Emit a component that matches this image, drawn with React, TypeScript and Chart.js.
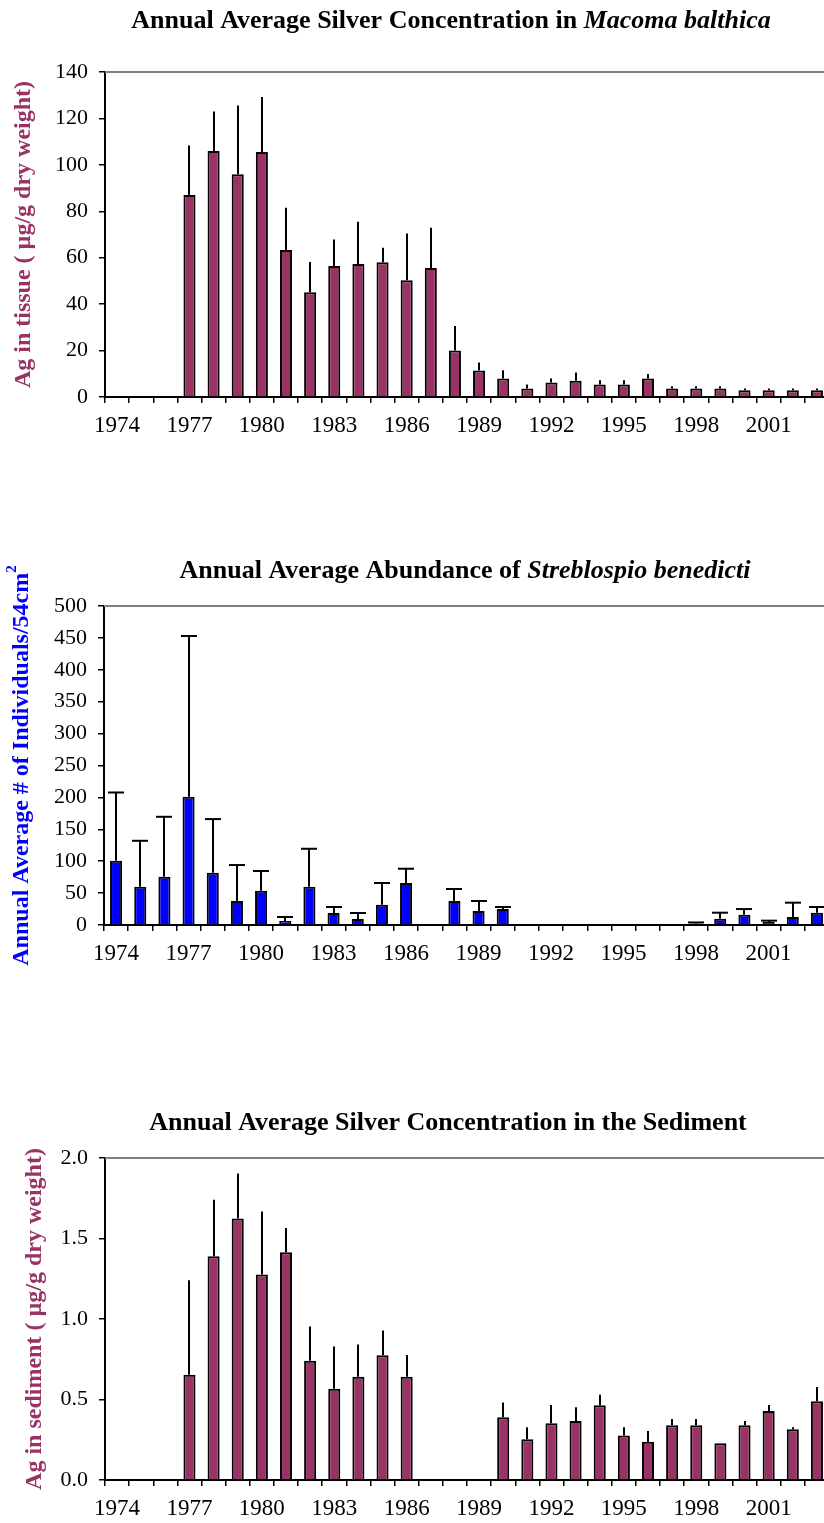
import React, { useEffect, useRef } from "react";
import { Chart, registerables } from "chart.js";

Chart.register(...registerables);

const FONT = "'Liberation Serif', 'Times New Roman', Times, serif";
const MAROON = "#993366";
const BLUE = "#0000FF";

// ---------- data ----------
const years = [
  1974, 1975, 1976, 1977, 1978, 1979, 1980, 1981, 1982, 1983,
  1984, 1985, 1986, 1987, 1988, 1989, 1990, 1991, 1992, 1993,
  1994, 1995, 1996, 1997, 1998, 1999, 2000, 2001, 2002, 2003,
];
const tickYears = [1974, 1977, 1980, 1983, 1986, 1989, 1992, 1995, 1998, 2001];

// Ag in Macoma balthica tissue (µg/g dry weight)
const tissueMean = [
  null, null, null, 87, 106, 96, 105.5, 63.3, 45.1, 56.4,
  57.3, 58, 50.3, 55.6, 20, 11.4, 8, 3.7, 6.3, 7,
  5.4, 5.4, 8, 3.7, 3.7, 3.7, 2.9, 2.9, 2.9, 2.9,
];
const tissueErr = [
  null, null, null, 21.3, 17, 29.6, 23.7, 18.2, 13.1, 11.4,
  18.2, 6.3, 20.1, 17.3, 10.6, 3.5, 3.5, 1.7, 1.7, 3.6,
  1.8, 1.8, 1.9, 0.9, 0.9, 0.9, 0.8, 0.8, 0.8, 0.8,
];

// Streblospio benedicti abundance (individuals / 54 cm²)
const abundMean = [
  100.7, 60, 75.6, 201, 82, 37.6, 53.8, 6.3, 60, 18.8,
  9.4, 31.8, 65.8, null, 37.8, 21.9, 25, null, null, null,
  null, null, null, null, 2.5, 9.9, 16.2, 4.7, 12.5, 19.3,
];
const abundErr = [
  107, 72, 94, 252, 84, 56.4, 30.8, 6.2, 59.5, 9.4,
  9.4, 34, 22.4, null, 18.6, 15.7, 3.2, null, null, null,
  null, null, null, null, 1.5, 9.4, 8.8, 2.1, 22.5, 8.9,
];

// Ag in sediment (µg/g dry weight)
const sedMean = [
  null, null, null, 0.653, 1.389, 1.625, 1.277, 1.414, 0.74, 0.566,
  0.641, 0.775, 0.641, null, null, null, 0.39, 0.253, 0.353, 0.367,
  0.464, 0.276, 0.238, 0.34, 0.34, 0.228, 0.34, 0.429, 0.315, 0.489,
];
const sedErr = [
  null, null, null, 0.587, 0.352, 0.278, 0.39, 0.151, 0.213, 0.263,
  0.2, 0.154, 0.136, null, null, null, 0.091, 0.075, 0.113, 0.085,
  0.065, 0.052, 0.067, 0.039, 0.039, 0, 0.027, 0.037, 0.013, 0.089,
];

type Part = { text: string; italic?: boolean; sup?: boolean };

const title1: Part[] = [
  { text: "Annual Average Silver Concentration in " },
  { text: "Macoma balthica", italic: true },
];
const title2: Part[] = [
  { text: "Annual Average Abundance of " },
  { text: "Streblospio benedicti", italic: true },
];
const title3: Part[] = [{ text: "Annual Average Silver Concentration in the Sediment" }];

const yTitle1: Part[] = [{ text: "Ag in tissue ( µg/g dry weight)" }];
const yTitle2: Part[] = [
  { text: "Annual Average # of Individuals/54cm" },
  { text: "2", sup: true },
];
const yTitle3: Part[] = [{ text: "Ag in sediment ( µg/g dry weight)" }];

// ---------- helpers ----------
function drawParts(
  ctx: CanvasRenderingContext2D,
  parts: Part[],
  size: number,
  cx: number,
  cy: number,
  color: string
) {
  const fontFor = (p: Part) =>
    `${p.italic ? "italic " : ""}bold ${p.sup ? Math.round(size * 0.62) : size}px ${FONT}`;
  let total = 0;
  const widths = parts.map((p) => {
    ctx.font = fontFor(p);
    const w = ctx.measureText(p.text).width;
    total += w;
    return w;
  });
  let x = cx - total / 2;
  ctx.textBaseline = "middle";
  ctx.textAlign = "left";
  ctx.fillStyle = color;
  parts.forEach((p, i) => {
    ctx.font = fontFor(p);
    ctx.fillText(p.text, x, cy + (p.sup ? -size * 0.4 : 0));
    x += widths[i];
  });
}

type Props = {
  top: number;
  height: number;
  padTop: number;
  means: (number | null)[];
  errs: (number | null)[];
  cap: number;
  color: string;
  yMax: number;
  yStep: number;
  decimals: number;
  title: Part[];
  titleX: number;
  titleY: number;
  axisTitle: Part[];
  axisTitleX: number;
  axisColor: string;
  yAxisWidth: number;
};

const CANVAS_W = 840;
const PLOT_RIGHT = 829;
const X_AXIS_H = 60;

function BarChart(p: Props) {
  const ref = useRef<HTMLCanvasElement | null>(null);

  useEffect(() => {
    if (!ref.current) return;

    const decorPlugin = {
      id: "decor",
      beforeDatasetsDraw(chart: any) {
        const { ctx, chartArea } = chart;
        ctx.save();
        ctx.strokeStyle = "#808080";
        ctx.lineWidth = 2;
        ctx.beginPath();
        ctx.moveTo(chartArea.left, chartArea.top);
        ctx.lineTo(chart.width, chartArea.top);
        ctx.stroke();
        ctx.restore();
      },
      afterDatasetsDraw(chart: any) {
        const { ctx, chartArea } = chart;
        const yScale = chart.scales.y;
        const meta = chart.getDatasetMeta(0);
        ctx.save();
        ctx.strokeStyle = "#000";
        ctx.lineWidth = 2;
        meta.data.forEach((bar: any, i: number) => {
          const v = p.means[i];
          const e = p.errs[i];
          if (v == null || e == null || e <= 0) return;
          const x = Math.round(bar.x);
          const y0 = yScale.getPixelForValue(v);
          const y1 = yScale.getPixelForValue(v + e);
          ctx.beginPath();
          ctx.moveTo(x, y0);
          ctx.lineTo(x, y1);
          ctx.stroke();
          if (p.cap > 0) {
            ctx.beginPath();
            ctx.moveTo(x - p.cap / 2, y1);
            ctx.lineTo(x + p.cap / 2, y1);
            ctx.stroke();
          }
        });
        ctx.restore();

        // chart title
        ctx.save();
        drawParts(ctx, p.title, 26, p.titleX, p.titleY, "#000");
        ctx.restore();

        // y axis title (rotated)
        ctx.save();
        ctx.translate(p.axisTitleX, (chartArea.top + chartArea.bottom) / 2);
        ctx.rotate(-Math.PI / 2);
        drawParts(ctx, p.axisTitle, 24, 0, 0, p.axisColor);
        ctx.restore();
      },
    };

    const chart = new Chart(ref.current, {
      type: "bar",
      data: {
        labels: years.map(String),
        datasets: [
          {
            data: p.means as any,
            backgroundColor: p.color,
            borderColor: "#000",
            borderWidth: 2,
            categoryPercentage: 1,
            barPercentage: 0.5,
          },
        ],
      },
      options: {
        animation: false,
        responsive: false,
        maintainAspectRatio: false,
        events: [],
        layout: {
          padding: { top: p.padTop, left: 0, right: CANVAS_W - PLOT_RIGHT, bottom: 0 },
        },
        plugins: {
          legend: { display: false },
          title: { display: false },
          tooltip: { enabled: false },
        },
        scales: {
          x: {
            type: "category",
            offset: true,
            afterFit: (s: any) => {
              s.height = X_AXIS_H;
            },
            border: { display: true, color: "#000", width: 2 },
            grid: {
              offset: true,
              drawOnChartArea: false,
              drawTicks: true,
              tickLength: 6,
              color: "#000",
              lineWidth: 1.5,
            },
            ticks: {
              autoSkip: false,
              maxRotation: 0,
              minRotation: 0,
              padding: 9,
              color: "#000",
              font: { family: FONT, size: 23 },
              callback: (_v: any, i: number) =>
                tickYears.includes(years[i]) ? String(years[i]) : "",
            },
          },
          y: {
            min: 0,
            max: p.yMax,
            afterFit: (s: any) => {
              s.width = p.yAxisWidth;
            },
            border: { display: true, color: "#000", width: 2 },
            grid: {
              drawOnChartArea: false,
              drawTicks: true,
              tickLength: 6,
              color: "#000",
              lineWidth: 1.5,
            },
            ticks: {
              stepSize: p.yStep,
              padding: 11,
              color: "#000",
              font: { family: FONT, size: 22 },
              callback: (v: any) => Number(v).toFixed(p.decimals),
            },
          },
        },
      },
      plugins: [decorPlugin],
    } as any);

    return () => chart.destroy();
  }, []);

  return (
    <canvas
      ref={ref}
      width={CANVAS_W}
      height={p.height}
      style={{
        position: "absolute",
        left: 0,
        top: p.top,
        width: CANVAS_W,
        height: p.height,
        display: "block",
      }}
    />
  );
}

export default function App() {
  return (
    <div
      style={{
        position: "absolute",
        left: 0,
        top: 0,
        width: 824,
        height: 1523,
        overflow: "hidden",
        background: "#fff",
      }}
    >
      <BarChart
        top={0}
        height={457}
        padTop={72}
        means={tissueMean}
        errs={tissueErr}
        cap={0}
        color={MAROON}
        yMax={140}
        yStep={20}
        decimals={0}
        title={title1}
        titleX={451}
        titleY={21}
        axisTitle={yTitle1}
        axisTitleX={24}
        axisColor={MAROON}
        yAxisWidth={105}
      />
      <BarChart
        top={540}
        height={445}
        padTop={66}
        means={abundMean}
        errs={abundErr}
        cap={16}
        color={BLUE}
        yMax={500}
        yStep={50}
        decimals={0}
        title={title2}
        titleX={465}
        titleY={31}
        axisTitle={yTitle2}
        axisTitleX={22}
        axisColor={BLUE}
        yAxisWidth={104}
      />
      <BarChart
        top={1100}
        height={440}
        padTop={58}
        means={sedMean}
        errs={sedErr}
        cap={0}
        color={MAROON}
        yMax={2}
        yStep={0.5}
        decimals={1}
        title={title3}
        titleX={448}
        titleY={23}
        axisTitle={yTitle3}
        axisTitleX={35}
        axisColor={MAROON}
        yAxisWidth={105}
      />
    </div>
  );
}
